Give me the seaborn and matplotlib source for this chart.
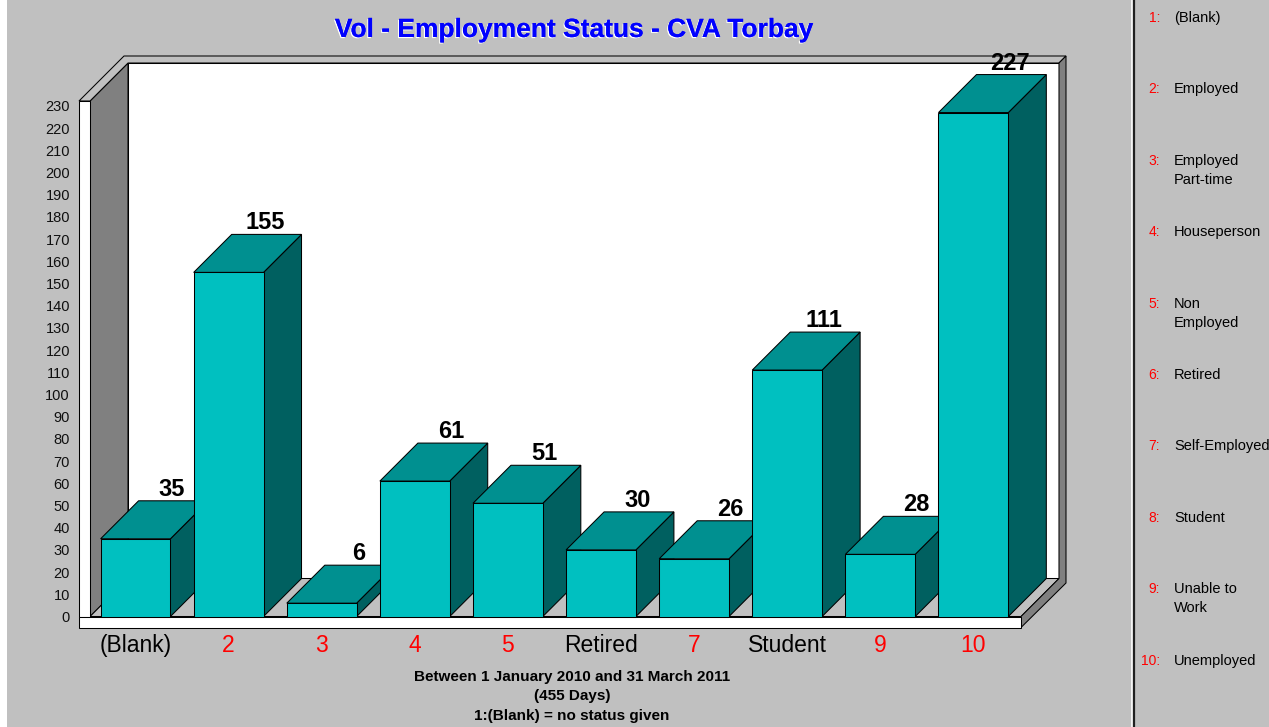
import numpy as np
import pandas as pd
import matplotlib
matplotlib.use("Agg")
import matplotlib.pyplot as plt
import matplotlib.patheffects as pe
from matplotlib.patches import Polygon, Rectangle
import seaborn as sns

# ---------------- data ----------------
statuses = ["(Blank)", "Employed", "Employed\nPart-time", "Houseperson", "Non\nEmployed",
            "Retired", "Self-Employed", "Student", "Unable to\nWork", "Unemployed"]
counts = [35, 155, 6, 61, 51, 30, 26, 111, 28, 227]
axis_labels = ["(Blank)", "2", "3", "4", "5", "Retired", "7", "Student", "9", "10"]
y_ticks = list(range(0, 231, 10))
title = "Vol - Employment Status - CVA Torbay"
subtitle_lines = ["Between 1 January 2010 and 31 March 2011", "(455 Days)",
                  "1:(Blank) = no status given"]

plt.rcParams['font.family'] = ['Liberation Sans', 'DejaVu Sans']

# ---------------- geometry ----------------
W, H = 1269, 727
BG = '#c0c0c0'
X0, PX = 135.5, 93.1      # pixel of first category centre, pixels per category
Y0, PY = 616.5, 2.22      # pixel of value 0, pixels per unit
DEPTH = 38                # 3-D depth in pixels
DX, DY = DEPTH / PX, DEPTH / PY
LW = 0.75


def px2x(p):
    return (p - X0) / PX


def px2y(q):
    return (Y0 - q) / PY


fig = plt.figure(figsize=(W / 100, H / 100), dpi=100, facecolor=BG)
ax = fig.add_axes([0, 0, 1, 1])
ax.set_facecolor('none')

codes = [str(i + 1) for i in range(len(counts))]
df = pd.DataFrame({'code': codes, 'count': counts})
sns.barplot(data=df, x='code', y='count', order=codes, color='#00c0c0', saturation=1,
            width=0.75, edgecolor='black', linewidth=LW, ax=ax, zorder=3)

ax.set_xlim(px2x(0), px2x(W))
ax.set_ylim(px2y(H), px2y(0))
ax.set_xlabel('')
ax.set_ylabel('')
for s in ax.spines.values():
    s.set_visible(False)

# ---------------- 3-D frame ----------------
xl, xr, xlo = px2x(90), px2x(1021), px2x(79)
top_v = px2y(101)
strip_bot = px2y(627.5)

ax.add_patch(Rectangle((xl + DX, DY), (xr - xl), top_v, facecolor='white',
                       edgecolor='black', lw=LW, zorder=1))
ax.add_patch(Polygon([(xl, 0), (xl, top_v), (xl + DX, top_v + DY), (xl + DX, DY)],
                     closed=True, facecolor='#808080', edgecolor='black', lw=LW, zorder=1.2))
ax.add_patch(Polygon([(xl, 0), (xr, 0), (xr + DX, DY), (xl + DX, DY)],
                     closed=True, facecolor=BG, edgecolor='black', lw=LW, zorder=1.2))
# top frame thickness
ax.add_patch(Polygon([(xlo, top_v), (xl, top_v), (xl + DX, top_v + DY), (xr + DX, top_v + DY),
                      (px2x(1066), px2y(56)), (px2x(124), px2y(56))],
                     closed=True, facecolor=BG, edgecolor='black', lw=LW, zorder=1.3))
# right thickness
ax.add_patch(Polygon([(xr + DX, top_v + DY), (px2x(1066), px2y(56)), (px2x(1066), px2y(583)),
                      (xr, strip_bot), (xr, 0), (xr + DX, DY)],
                     closed=True, facecolor='#808080', edgecolor='black', lw=LW, zorder=1.3))
# front strips (y-axis and floor edge)
ax.add_patch(Rectangle((xlo, 0), xl - xlo, top_v, facecolor='white', edgecolor='black',
                       lw=LW, zorder=1.8))
ax.add_patch(Rectangle((xlo, strip_bot), xr - xlo, -strip_bot, facecolor='white',
                       edgecolor='black', lw=LW, zorder=1.8))

# ---------------- 3-D bar faces ----------------
bars = [p for p in ax.patches if isinstance(p, Rectangle) and p.get_zorder() == 3]
for p, v in zip(bars, counts):
    x0 = p.get_x()
    w = p.get_width()
    hgt = p.get_height()
    top = Polygon([(x0, hgt), (x0 + w, hgt), (x0 + w + DX, hgt + DY), (x0 + DX, hgt + DY)],
                  closed=True, facecolor='#009090', edgecolor='black', lw=LW, zorder=2)
    side = Polygon([(x0 + w, 0), (x0 + w + DX, DY), (x0 + w + DX, hgt + DY), (x0 + w, hgt)],
                   closed=True, facecolor='#006060', edgecolor='black', lw=LW, zorder=2)
    ax.add_patch(side)
    ax.add_patch(top)
    ax.text(x0 + w / 2 + DX - 1.5 / PX, hgt + DY, f"{v}", ha='center', va='bottom',
            fontsize=17, fontweight='bold', color='black', zorder=6)

# ---------------- axes ticks ----------------
ax.spines['left'].set_position(('data', xl))
ax.spines['bottom'].set_position(('data', strip_bot))
ax.set_yticks(y_ticks)
ax.set_yticklabels([str(t) for t in y_ticks])
ax.tick_params(axis='y', direction='out', length=11 * 0.72, width=LW, pad=6.5,
               labelsize=10.5, colors='black', labelcolor='#101010')
ax.set_xticks(range(len(axis_labels)))
ax.set_xticklabels(axis_labels)
ax.tick_params(axis='x', direction='in', length=11 * 0.72, width=LW, pad=4.5, labelsize=16.5)
for lab, txt in zip(ax.get_xticklabels(), axis_labels):
    lab.set_color('red' if txt.isdigit() else 'black')

# ---------------- texts ----------------
fig.text(574 / W, 1 - 30 / H, title, ha='center', va='center', color='#0000ff',
         fontsize=19, fontweight='bold',
         path_effects=[pe.withSimplePatchShadow(offset=(-0.8, -0.8), shadow_rgbFace='white',
                                                alpha=1.0), pe.Normal()])
for yy, line in zip([677, 696, 716], subtitle_lines):
    fig.text(572 / W, 1 - yy / H, line, ha='center', va='center', fontsize=11,
             fontweight='bold', color='black')

# legend panel
fig.add_artist(plt.Line2D([1131.5 / W, 1131.5 / W], [0, 1], color='white', lw=1.2))
fig.add_artist(plt.Line2D([1134 / W, 1134 / W], [0, 1], color='#202020', lw=1.6))
for i, name in enumerate(statuses):
    yc = 18 + 71.4 * i
    fig.text(1160 / W, 1 - yc / H, f"{i + 1}:", ha='right', va='center', color='red',
             fontsize=10)
    for j, line in enumerate(name.split("\n")):
        fig.text(1174 / W, 1 - (yc + 19 * j) / H, line, ha='left', va='center',
                 color='black', fontsize=10.5)

fig.add_artist(Rectangle((0, 0), 7 / W, 1, transform=fig.transFigure, facecolor='white',
                         edgecolor='none'))

fig.savefig('out.png', dpi=100, facecolor=fig.get_facecolor())
